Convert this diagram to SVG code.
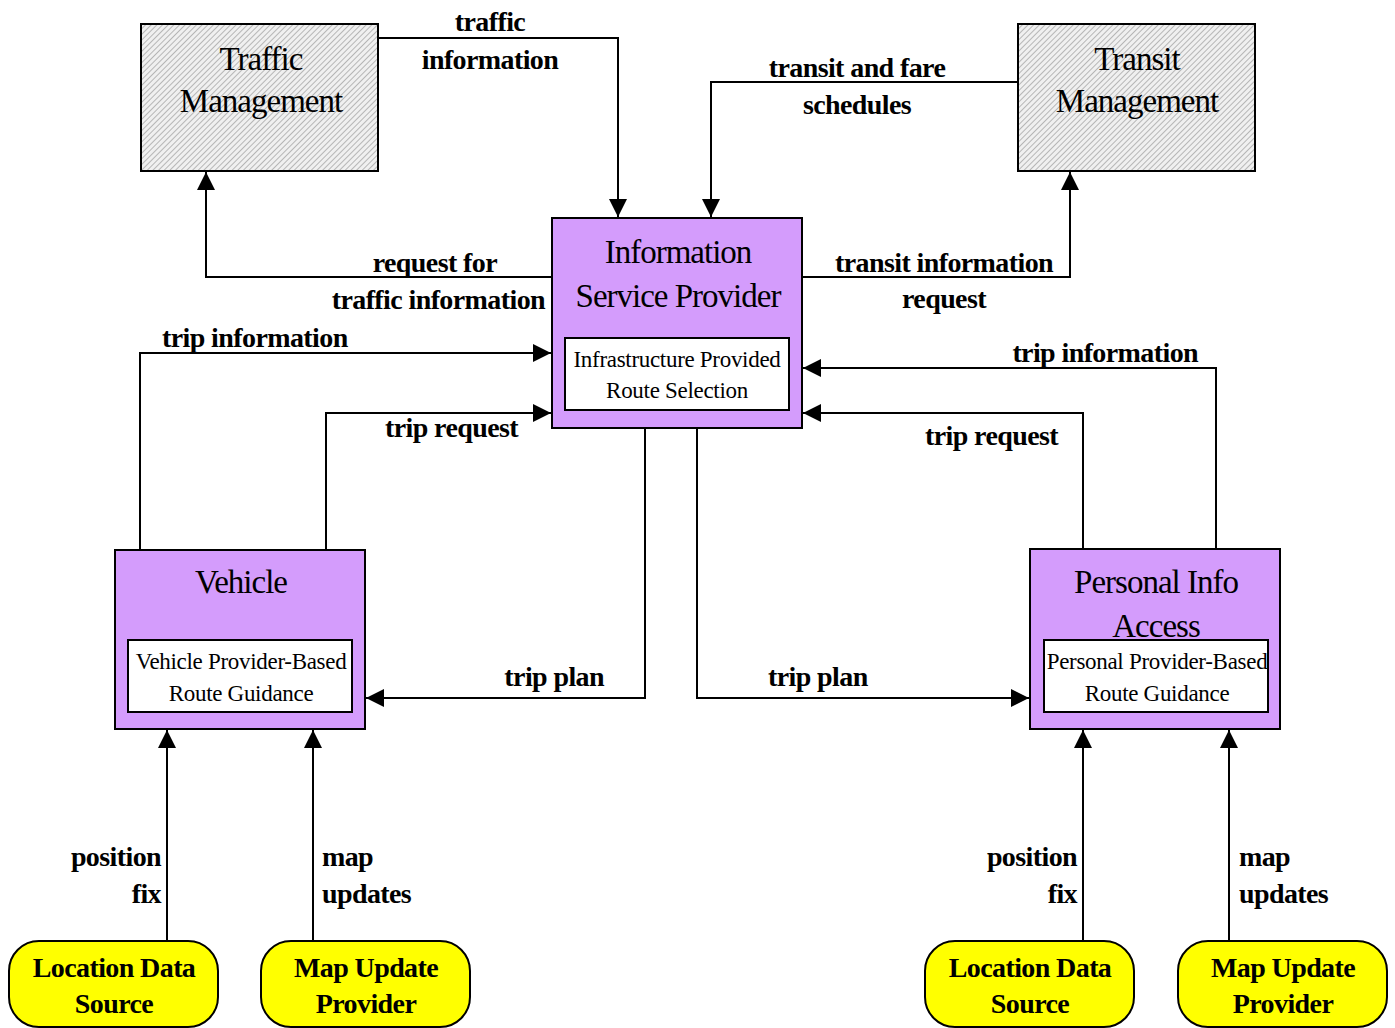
<svg xmlns="http://www.w3.org/2000/svg" width="1395" height="1028" viewBox="0 0 1395 1028">
<style>
.box{stroke:#000;stroke-width:2}
.ext{fill:url(#hatch)}
.sub{fill:#d49cfc}
.inner{fill:#fff}
.term{fill:#ffff00}
.title{font-family:"Liberation Serif","Times New Roman",serif;font-size:33px;letter-spacing:-1px;text-anchor:middle;fill:#000}
.small{font-family:"Liberation Serif","Times New Roman",serif;font-size:23px;letter-spacing:-0.3px;text-anchor:middle;fill:#000}
.lbl{font-family:"Liberation Serif","Times New Roman",serif;font-size:28px;font-weight:bold;letter-spacing:-0.6px;fill:#000}
.mid{text-anchor:middle}
.end{text-anchor:end}
.conn path{fill:none;stroke:#000;stroke-width:2}
</style>
<defs>
<pattern id="hatch" width="4" height="4" patternUnits="userSpaceOnUse" patternTransform="rotate(45)">
<rect width="4" height="4" fill="#f0f0f0"/>
<line x1="0" y1="0" x2="0" y2="4" stroke="#a8a8a8" stroke-width="1.6"/>
</pattern>
<marker id="arr" markerUnits="userSpaceOnUse" markerWidth="18" markerHeight="18" refX="18" refY="9" orient="auto">
<path d="M0,0 L18,9 L0,18 z" fill="#000"/>
</marker>
</defs>
<rect width="1395" height="1028" fill="#fff"/>

<g id="connectors" class="conn">
<path d="M378,38 H618 V217" marker-end="url(#arr)"/>
<path d="M1018,82 H711 V217" marker-end="url(#arr)"/>
<path d="M552,277 H206 V172" marker-end="url(#arr)"/>
<path d="M802,277 H1070 V172" marker-end="url(#arr)"/>
<path d="M140,549 V353 H551" marker-end="url(#arr)"/>
<path d="M326,549 V413 H551" marker-end="url(#arr)"/>
<path d="M1216,548 V368 H803" marker-end="url(#arr)"/>
<path d="M1083,548 V413 H803" marker-end="url(#arr)"/>
<path d="M645,429 V698 H366" marker-end="url(#arr)"/>
<path d="M697,429 V698 H1029" marker-end="url(#arr)"/>
<path d="M167,940 V730" marker-end="url(#arr)"/>
<path d="M313,940 V730" marker-end="url(#arr)"/>
<path d="M1083,940 V730" marker-end="url(#arr)"/>
<path d="M1229,940 V730" marker-end="url(#arr)"/>
</g>

<g id="labels">
<text class="lbl mid" x="490" y="31">traffic</text>
<text class="lbl mid" x="490" y="69">information</text>
<text class="lbl mid" x="857" y="77">transit and fare</text>
<text class="lbl mid" x="857" y="114">schedules</text>
<text class="lbl end" x="497" y="272">request for</text>
<text class="lbl end" x="545" y="309">traffic information</text>
<text class="lbl mid" x="944" y="272">transit information</text>
<text class="lbl mid" x="944" y="308">request</text>
<text class="lbl" x="162" y="347">trip information</text>
<text class="lbl end" x="518" y="437">trip request</text>
<text class="lbl end" x="1198" y="362">trip information</text>
<text class="lbl end" x="1058" y="445">trip request</text>
<text class="lbl end" x="604" y="686">trip plan</text>
<text class="lbl" x="768" y="686">trip plan</text>
<text class="lbl end" x="161" y="866">position</text>
<text class="lbl end" x="161" y="903">fix</text>
<text class="lbl" x="322" y="866">map</text>
<text class="lbl" x="322" y="903">updates</text>
<text class="lbl end" x="1077" y="866">position</text>
<text class="lbl end" x="1077" y="903">fix</text>
<text class="lbl" x="1239" y="866">map</text>
<text class="lbl" x="1239" y="903">updates</text>
</g>

<g id="traffic-management">
<rect class="box ext" x="141" y="24" width="237" height="147"/>
<text class="title" x="261" y="70">Traffic</text>
<text class="title" x="261" y="112">Management</text>
</g>

<g id="transit-management">
<rect class="box ext" x="1018" y="24" width="237" height="147"/>
<text class="title" x="1137" y="70">Transit</text>
<text class="title" x="1137" y="112">Management</text>
</g>

<g id="information-service-provider">
<rect class="box sub" x="552" y="218" width="250" height="210"/>
<text class="title" x="678" y="263">Information</text>
<text class="title" x="678" y="307">Service Provider</text>
<rect class="box inner" x="565" y="338" width="224" height="72"/>
<text class="small" x="677" y="367">Infrastructure Provided</text>
<text class="small" x="677" y="398">Route Selection</text>
</g>

<g id="vehicle">
<rect class="box sub" x="115" y="550" width="250" height="179"/>
<text class="title" x="241" y="593">Vehicle</text>
<rect class="box inner" x="128" y="640" width="224" height="72"/>
<text class="small" x="241" y="669">Vehicle Provider-Based</text>
<text class="small" x="241" y="701">Route Guidance</text>
</g>

<g id="personal-info-access">
<rect class="box sub" x="1030" y="549" width="250" height="180"/>
<text class="title" x="1156" y="593">Personal Info</text>
<text class="title" x="1156" y="637">Access</text>
<rect class="box inner" x="1044" y="640" width="224" height="72"/>
<text class="small" x="1157" y="669">Personal Provider-Based</text>
<text class="small" x="1157" y="701">Route Guidance</text>
</g>

<g id="location-data-source-left">
<rect class="box term" x="9" y="941" width="209" height="86" rx="30"/>
<text class="lbl mid" x="114" y="977">Location Data</text>
<text class="lbl mid" x="114" y="1013">Source</text>
</g>

<g id="map-update-provider-left">
<rect class="box term" x="261" y="941" width="209" height="86" rx="30"/>
<text class="lbl mid" x="366" y="977">Map Update</text>
<text class="lbl mid" x="366" y="1013">Provider</text>
</g>

<g id="location-data-source-right">
<rect class="box term" x="925" y="941" width="209" height="86" rx="30"/>
<text class="lbl mid" x="1030" y="977">Location Data</text>
<text class="lbl mid" x="1030" y="1013">Source</text>
</g>

<g id="map-update-provider-right">
<rect class="box term" x="1178" y="941" width="209" height="86" rx="30"/>
<text class="lbl mid" x="1283" y="977">Map Update</text>
<text class="lbl mid" x="1283" y="1013">Provider</text>
</g>
</svg>
